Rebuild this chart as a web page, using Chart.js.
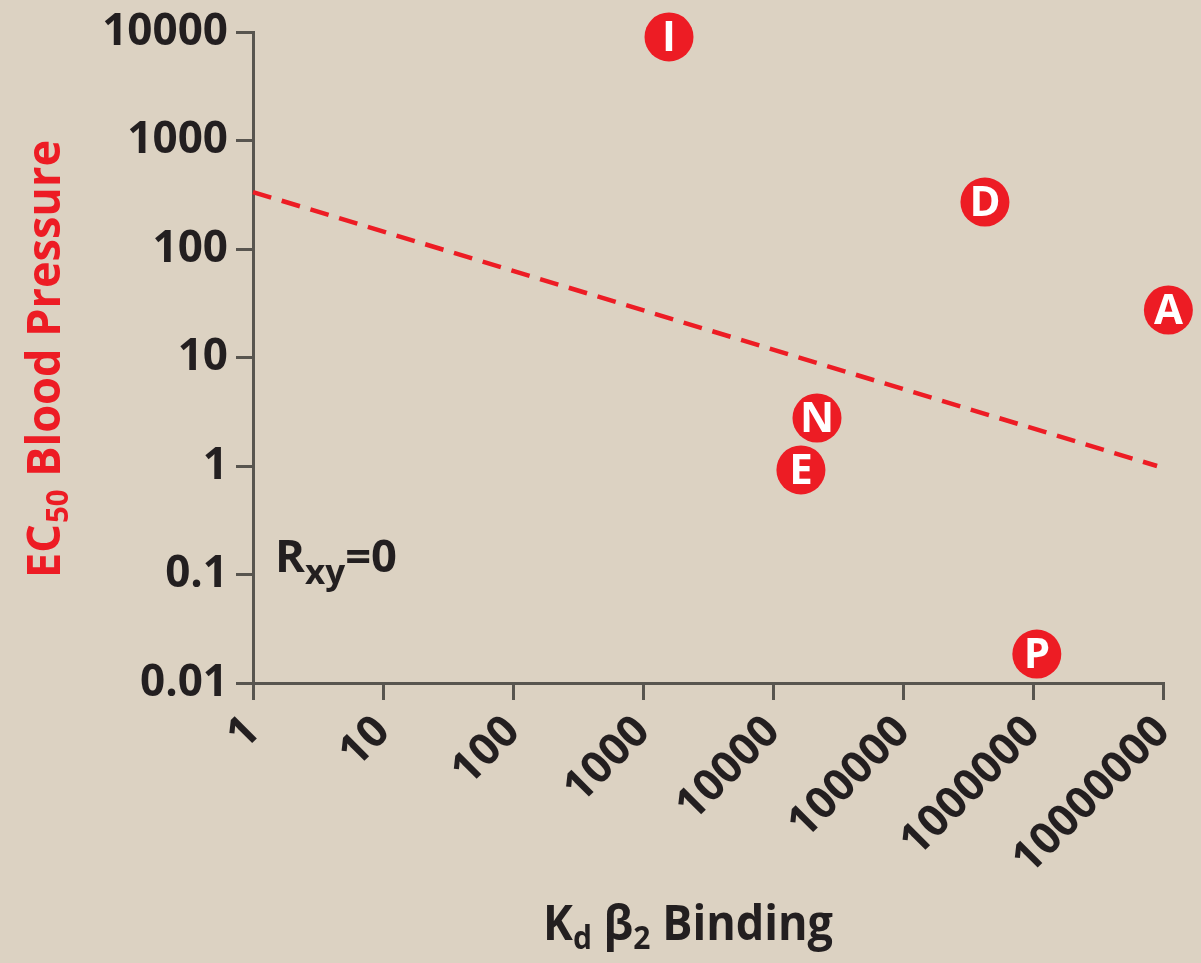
<!DOCTYPE html>
<html>
<head>
<meta charset="utf-8">
<script src="https://cdn.jsdelivr.net/npm/chart.js@4/dist/chart.umd.min.js"></script>
<style>
  html, body { margin: 0; padding: 0; background: #dcd2c2; }
  #wrap { width: 1201px; height: 963px; position: relative; }
</style>
</head>
<body>
<div id="wrap"><canvas id="c"></canvas></div>
<script>
// ---- data ----
const categories = ['I', 'D', 'A', 'N', 'E', 'P'];
const kdBinding = [1585, 427000, 11000000, 21800, 16400, 1070000];
const ec50BloodPressure = [9000, 271, 27.4, 2.77, 0.92, 0.0185];
const fitLineX = [1, 9000000];
const fitLineY = [335, 1.0];
const xTickValues = [1, 10, 100, 1000, 10000, 100000, 1000000, 10000000];
const xTickLabels = ['1', '10', '100', '1000', '10000', '100000', '1000000', '10000000'];
const yTickValues = [0.01, 0.1, 1, 10, 100, 1000, 10000];
const yTickLabels = ['0.01', '0.1', '1', '10', '100', '1000', '10000'];
const annotationText = [['R', false], ['xy', true], ['=0', false]];

const RED = '#ed1c24';
const DARK = '#231f20';
const AXIS = '#58554f';
const FONT = '"Open Sans", "Noto Sans", sans-serif';

function measureRich(ctx, segs, size, subSize) {
  let w = 0;
  segs.forEach(s => {
    ctx.font = 'bold ' + (s[1] ? subSize : size) + 'px ' + FONT;
    w += ctx.measureText(s[0]).width;
  });
  return w;
}
function drawRich(ctx, segs, x, y, size, subSize, subDrop, color, targetW, gap) {
  ctx.save();
  ctx.fillStyle = color;
  ctx.textBaseline = 'alphabetic';
  ctx.textAlign = 'left';
  const w = measureRich(ctx, segs, size, subSize) + (gap || 0) * (segs.length - 1);
  const sx = targetW ? targetW / w : 1;
  ctx.translate(x, y);
  ctx.scale(sx, 1);
  let cx = 0;
  segs.forEach((s, i) => {
    ctx.font = 'bold ' + (s[1] ? subSize : size) + 'px ' + FONT;
    ctx.fillText(s[0], cx, s[1] ? subDrop : 0);
    cx += ctx.measureText(s[0]).width + (gap || 0);
  });
  ctx.restore();
}

const overlay = {
  id: 'overlay',
  afterDatasetsDraw(chart) {
    const ctx = chart.ctx;
    // letters in the circles
    const meta = chart.getDatasetMeta(1);
    ctx.save();
    ctx.fillStyle = '#ffffff';
    ctx.font = 'bold 42px ' + FONT;
    ctx.textAlign = 'center';
    ctx.textBaseline = 'middle';
    meta.data.forEach((pt, i) => {
      ctx.fillText(categories[i], pt.x, pt.y + 2);
    });
    ctx.restore();
    // Rxy annotation
    const ca = chart.chartArea;
    drawRich(ctx, annotationText, ca.left + 22, 572, 44, 34, 12, DARK, 122, 0);
  },
  afterDraw(chart) {
    const ctx = chart.ctx;
    // y title (rotated)
    ctx.save();
    ctx.translate(60, 578);
    ctx.rotate(-Math.PI / 2);
    drawRich(ctx, [['EC', false], ['50', true], [' Blood Pressure', false]], 0, 0, 46, 30, 8, RED, 438, 1);
    ctx.restore();
    // x title
    drawRich(ctx, [['K', false], ['d', true], [' \u03b2', false], ['2', true], [' Binding', false]], 543, 940, 48, 32, 9, DARK, 290, 0);
  }
};

new Chart(document.getElementById('c'), {
  type: 'scatter',
  data: {
    datasets: [
      {
        type: 'line',
        data: fitLineX.map((x, i) => ({ x: x, y: fitLineY[i] })),
        borderColor: RED,
        borderWidth: 4.5,
        borderDash: [19, 11],
        pointRadius: 0,
        fill: false,
        clip: false
      },
      {
        data: kdBinding.map((x, i) => ({ x: x, y: ec50BloodPressure[i] })),
        backgroundColor: RED,
        borderWidth: 0,
        pointRadius: 24.5,
        pointHoverRadius: 24.5,
        clip: false
      }
    ]
  },
  plugins: [overlay],
  options: {
    responsive: true,
    maintainAspectRatio: false,
    animation: false,
    events: [],
    layout: { padding: { top: 32, right: 38, left: 0, bottom: 0 } },
    plugins: { legend: { display: false }, tooltip: { enabled: false } },
    scales: {
      x: {
        type: 'logarithmic',
        min: 1,
        max: 10000000,
        afterBuildTicks(scale) { scale.ticks = xTickValues.map(v => ({ value: v })); },
        afterFit(scale) { scale.height = 963 - 683; scale.paddingLeft = 0; scale.paddingRight = 0; },
        border: { display: true, color: AXIS, width: 3 },
        grid: { display: true, drawOnChartArea: false, drawTicks: true, tickLength: 17, color: AXIS, lineWidth: 3 },
        ticks: {
          autoSkip: false,
          minRotation: 45,
          maxRotation: 45,
          padding: 6,
          color: DARK,
          font: { family: FONT, size: 44, weight: 'bold' },
          callback: (v, i) => xTickLabels[i]
        }
      },
      y: {
        type: 'logarithmic',
        min: 0.01,
        max: 10000,
        afterBuildTicks(scale) { scale.ticks = yTickValues.map(v => ({ value: v })); },
        afterFit(scale) { scale.width = 253; scale.paddingTop = 0; scale.paddingBottom = 0; },
        border: { display: true, color: AXIS, width: 3 },
        grid: { display: true, drawOnChartArea: false, drawTicks: true, tickLength: 17, color: AXIS, lineWidth: 3 },
        ticks: {
          padding: 8,
          color: DARK,
          font: { family: FONT, size: 44, weight: 'bold' },
          callback: (v, i) => yTickLabels[i]
        }
      }
    }
  }
});
</script>
</body>
</html>
